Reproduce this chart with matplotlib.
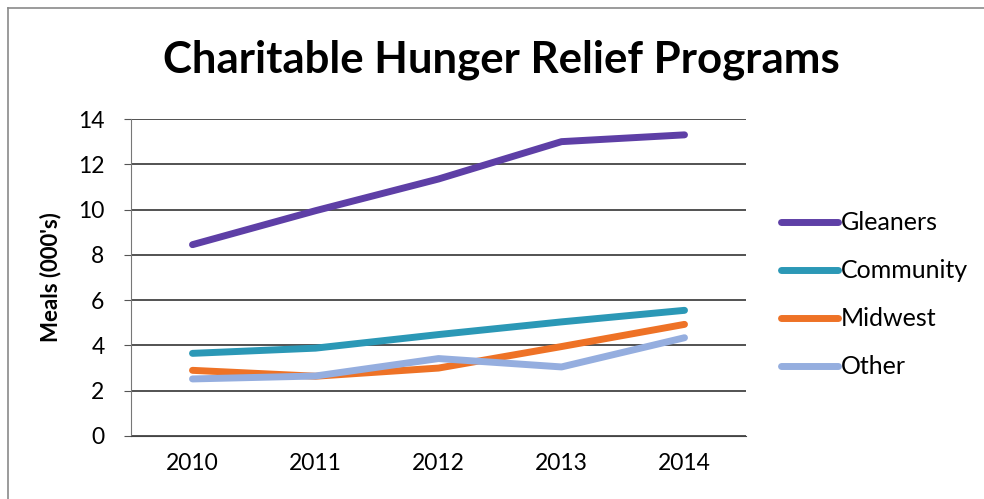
import matplotlib
matplotlib.use("Agg")
import matplotlib.pyplot as plt
from matplotlib.lines import Line2D

# data
years = [2010, 2011, 2012, 2013, 2014]
gleaners = [8.45, 9.95, 11.35, 13.0, 13.3]
community = [3.65, 3.88, 4.48, 5.04, 5.55]
midwest = [2.9, 2.64, 3.0, 3.95, 4.93]
other = [2.52, 2.65, 3.42, 3.05, 4.34]

names = ["Gleaners", "Community", "Midwest", "Other"]
colors = ["#5E3FA6", "#2B98B6", "#EE7226", "#95AEDF"]
yticks = [0, 2, 4, 6, 8, 10, 12, 14]

plt.rcParams['font.family'] = ['Lato', 'DejaVu Sans']

fig = plt.figure(figsize=(9.84, 4.99), dpi=100)
ax = fig.add_axes([131/984, 1-436/499, 615/984, 317/499])

# outer frame of the chart (only left and top edges show)
fx, fy = 8/984, 1-8/499
fig.lines.append(Line2D([fx, fx], [0, fy], transform=fig.transFigure, color="#8a8a8a", linewidth=1.2))
fig.lines.append(Line2D([fx, 1], [fy, fy], transform=fig.transFigure, color="#8a8a8a", linewidth=1.2))

series = [gleaners, community, midwest, other]
for vals, c in zip(series, colors):
    ax.plot(years, vals, color=c, linewidth=5, solid_capstyle="round", solid_joinstyle="round")

ax.set_xlim(2009.5, 2014.5)
ax.set_ylim(0, 14)
ax.set_xticks(years)
ax.set_xticklabels([str(y) for y in years], fontsize=16.5)
ax.set_yticks(yticks)
ax.set_yticklabels([str(t) for t in yticks], fontsize=16.5)
ax.tick_params(axis="x", length=0, pad=12)
ax.tick_params(axis="y", length=5, color="#555555", pad=14)
ax.grid(axis="y", color="#444444", linewidth=1.3)
ax.set_axisbelow(True)
for s in ["top", "right"]:
    ax.spines[s].set_visible(False)
ax.spines["left"].set_color("#777777")
ax.spines["bottom"].set_color("#444444")

ax.set_ylabel("Meals (000's)", fontsize=16, fontweight="bold", labelpad=12)
fig.text(501/984, 1-60/499, "Charitable Hunger Relief Programs", fontsize=31.5,
         fontweight="bold", ha="center", va="center")

handles = [Line2D([0], [0], color=c, linewidth=5, solid_capstyle="round") for c in colors]
fig.legend(handles, names, loc="center left", bbox_to_anchor=(758/984, 1-295/499),
           frameon=False, fontsize=18, handlelength=2.3, handletextpad=0.1,
           labelspacing=1.0)

fig.savefig("out.png", dpi=100)
